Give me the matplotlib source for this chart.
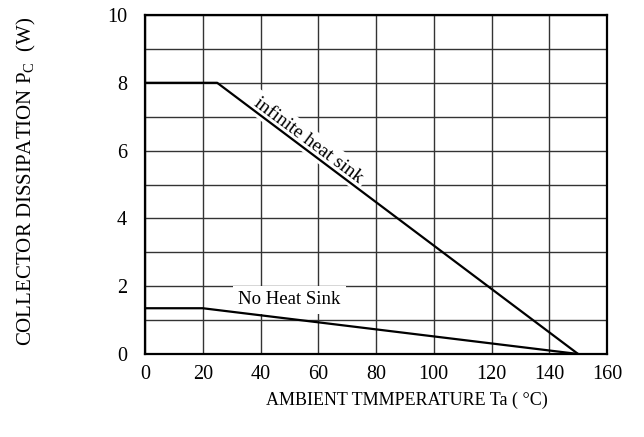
import matplotlib
matplotlib.use("Agg")
import matplotlib.pyplot as plt

plt.rcParams['font.family'] = ['Liberation Serif', 'DejaVu Serif']
plt.rcParams['mathtext.fontset'] = 'custom'
plt.rcParams['mathtext.rm'] = 'Liberation Serif'

# derating curves
temp_inf = [0, 25, 150]
pc_inf = [8, 8, 0]
temp_no = [0, 20, 150]
pc_no = [1.35, 1.35, 0]

xticks = [0, 20, 40, 60, 80, 100, 120, 140, 160]
yticks = [0, 2, 4, 6, 8, 10]

fig = plt.figure(figsize=(6.44, 4.37), dpi=100)
ax = fig.add_axes([145/644, 1-354/437, 462/644, 339/437])

ax.set_xlim(0, 160)
ax.set_ylim(0, 10)
ax.set_xticks(xticks)
ax.set_yticks(yticks)
ax.set_yticks(range(0, 11), minor=True)
ax.grid(True, which='both', color='#333333', lw=1.0)
ax.tick_params(which='both', length=0, labelsize=14.5)
ax.tick_params(axis='y', pad=13)
ax.tick_params(axis='x', pad=8)
for s in ax.spines.values():
    s.set_linewidth(1.6)

ax.plot(temp_inf, pc_inf, color='black', lw=1.6, zorder=4)
ax.plot(temp_no, pc_no, color='black', lw=1.6, zorder=4)

ax.text(56.5, 6.3, 'infinite heat sink', rotation=-36.7, rotation_mode='anchor',
        ha='center', va='center', fontsize=14, zorder=3,
        bbox=dict(facecolor='white', edgecolor='none', pad=3))
ax.text(50, 1.6, 'No Heat Sink', ha='center', va='center', fontsize=13.5, zorder=3,
        bbox=dict(facecolor='white', edgecolor='none', pad=4))

fig.text(407/644, 1-400/437, 'AMBIENT TMMPERATURE Ta ( \u00b0C)', ha='center', va='center',
         fontsize=13)
fig.text(26/644, 1-181/437, 'COLLECTOR DISSIPATION P$_\\mathrm{C}$  (W)', rotation=90,
         ha='center', va='center', fontsize=15)

fig.savefig('out.png', dpi=100)
